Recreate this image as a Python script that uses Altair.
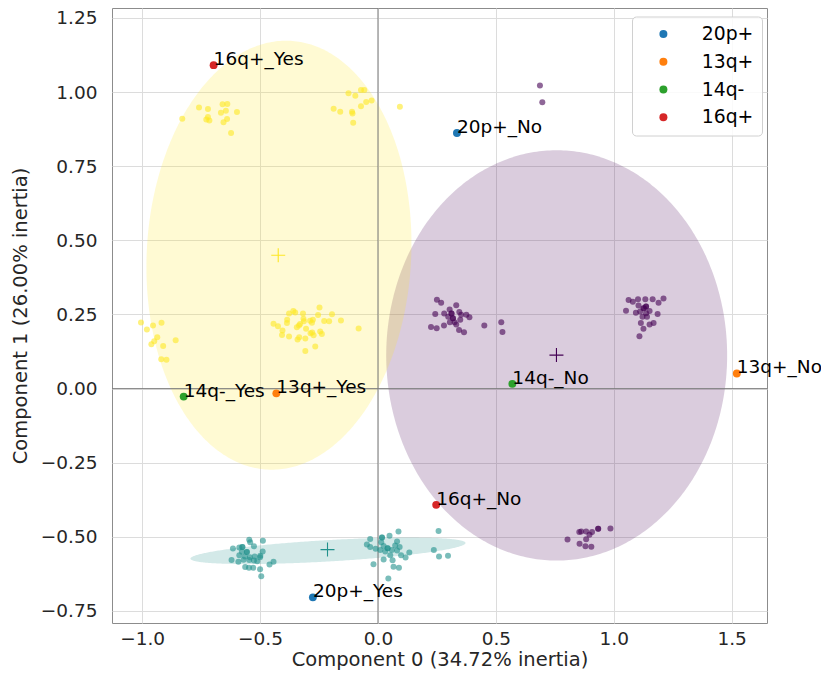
import altair as alt
import numpy as np
import pandas as pd

# ---------------- data ----------------
# Row principal coordinates, grouped by cluster
yellow_x = [-0.830, -0.759, -0.721, -0.659, -0.639, -0.666, -0.645, -0.598, -0.728, -0.715, -0.721, -0.640, -0.655, -0.623,
            -0.125, -0.096, -0.072, -0.058, -0.050, -0.027, -0.072, -0.188, -0.160, -0.110, -0.108, -0.105, 0.093,
            -1.005, -0.980, -0.954, -0.918, -0.936, -0.949, -0.961, -0.911, -0.858, -0.919, -0.897,
            -0.443, -0.424, -0.385, -0.386, -0.377, -0.359, -0.351, -0.318, -0.316, -0.314,
            -0.330, -0.335, -0.344, -0.305, -0.288, -0.276, -0.280, -0.254, -0.248, -0.228,
            -0.207, -0.195, -0.157, -0.082, -0.405, -0.407, -0.377, -0.341, -0.334, -0.308,
            -0.286, -0.279, -0.273, -0.245, -0.238, -0.308, -0.266]
yellow_y = [0.910, 0.948, 0.943, 0.959, 0.960, 0.930, 0.937, 0.933, 0.908, 0.904, 0.916, 0.909, 0.898, 0.862,
            0.996, 0.988, 1.007, 1.007, 0.967, 0.972, 0.952, 0.944, 0.934, 0.934, 0.928, 0.897, 0.951,
            0.223, 0.199, 0.213, 0.222, 0.173, 0.160, 0.150, 0.144, 0.163, 0.099, 0.097,
            0.219, 0.210, 0.232, 0.221, 0.253, 0.262, 0.257, 0.253, 0.236, 0.227,
            0.218, 0.213, 0.207, 0.202, 0.229, 0.232, 0.222, 0.248, 0.274, 0.228,
            0.227, 0.251, 0.230, 0.203, 0.196, 0.181, 0.176, 0.166, 0.173, 0.169,
            0.187, 0.189, 0.180, 0.193, 0.184, 0.127, 0.142]

purple_x = [0.250, 0.268, 0.243, 0.281, 0.304, 0.312, 0.332, 0.345, 0.353, 0.375, 0.388, 0.298, 0.318, 0.325,
            0.349, 0.305, 0.332, 0.280, 0.225, 0.249, 0.344, 0.365, 0.451, 0.523, 0.528, 0.318, 0.312,
            1.063, 1.081, 1.103, 1.134, 1.165, 1.211, 1.190, 1.105, 1.126, 1.137, 1.052, 1.094, 1.112,
            1.137, 1.152, 1.186, 1.122, 1.141, 1.115, 1.152, 1.169, 1.126, 1.109, 1.137, 1.128,
            0.804, 0.854, 0.862, 0.883, 0.908, 0.897, 0.934, 0.986, 0.883, 0.855, 0.880, 0.905, 0.934,
            0.687, 0.697]
purple_y = [0.300, 0.290, 0.252, 0.253, 0.267, 0.253, 0.281, 0.258, 0.249, 0.249, 0.241, 0.242, 0.237, 0.224,
            0.232, 0.224, 0.216, 0.213, 0.208, 0.204, 0.198, 0.190, 0.213, 0.224, 0.191, 0.237, 0.253,
            0.299, 0.293, 0.301, 0.301, 0.301, 0.304, 0.290, 0.280, 0.271, 0.277, 0.263, 0.256, 0.260,
            0.254, 0.262, 0.252, 0.242, 0.242, 0.221, 0.216, 0.221, 0.202, 0.177, 0.277, 0.271,
            -0.509, -0.484, -0.482, -0.482, -0.484, -0.493, -0.473, -0.472, -0.508, -0.523, -0.532, -0.533, -0.473,
            1.022, 0.966]

teal_x = [-0.615, -0.588, -0.575, -0.546, -0.542, -0.488, -0.526, -0.577, -0.556, -0.588, -0.564, -0.543,
          -0.523, -0.499, -0.621, -0.592, -0.570, -0.546, -0.526, -0.512, -0.489, -0.500, -0.443, -0.460,
          -0.563, -0.547, -0.529, -0.500, -0.495, -0.575, -0.556,
          -0.033, 0.017, 0.049, 0.087, 0.014, -0.047, -0.033, -0.010, 0.024, 0.041, 0.081, 0.092, 0.073,
          0.010, 0.031, 0.059, 0.081, 0.098, 0.117, 0.133, 0.052, 0.024, 0.062, -0.019, 0.066, 0.089, 0.044,
          0.041, 0.017,
          0.257, 0.237, 0.259, 0.297]
teal_y = [-0.539, -0.536, -0.534, -0.510, -0.518, -0.513, -0.532, -0.550, -0.551, -0.562, -0.566, -0.569,
          -0.566, -0.564, -0.578, -0.584, -0.577, -0.578, -0.580, -0.582, -0.549, -0.569, -0.584, -0.593,
          -0.602, -0.604, -0.604, -0.609, -0.633, -0.534, -0.551,
          -0.507, -0.502, -0.496, -0.482, -0.518, -0.526, -0.534, -0.540, -0.531, -0.538, -0.516, -0.534, -0.529,
          -0.544, -0.549, -0.544, -0.546, -0.562, -0.570, -0.553, -0.562, -0.576, -0.579, -0.592, -0.601, -0.604, -0.640,
          -0.538, -0.502,
          -0.480, -0.544, -0.566, -0.564]

# Cluster summaries: centroid (+ marker) and confidence ellipse
clusters = ["cluster 0", "cluster 1", "cluster 2"]
cluster_colors = ["#440154", "#21918c", "#fde725"]
centroid_x = [0.757, -0.214, -0.423]
centroid_y = [0.113, -0.543, 0.450]
ell_cx = [0.758, -0.212, -0.420]
ell_cy = [0.112, -0.547, 0.450]
ell_a = [0.723, 0.584, 0.725]      # semi-axis along the angle
ell_b = [0.692, 0.036, 0.560]      # perpendicular semi-axis
ell_angle = [0.0, 2.6, 84.0]       # degrees

# Column principal coordinates
col_labels = ["20p+_No", "20p+_Yes", "13q+_No", "13q+_Yes", "14q-_No", "14q-_Yes", "16q+_No", "16q+_Yes"]
col_var = ["20p+", "20p+", "13q+", "13q+", "14q-", "14q-", "16q+", "16q+"]
col_x = [0.335, -0.276, 1.522, -0.431, 0.570, -0.824, 0.247, -0.697]
col_y = [0.862, -0.704, 0.051, -0.016, 0.016, -0.027, -0.392, 1.091]
var_order = ["20p+", "13q+", "14q-", "16q+"]
var_colors = ["#1f77b4", "#ff7f0e", "#2ca02c", "#d62728"]

x_ticks = [-1.0, -0.5, 0.0, 0.5, 1.0, 1.5]
y_ticks = [-0.75, -0.5, -0.25, 0.0, 0.25, 0.5, 0.75, 1.0, 1.25]
X_DOM = [-1.128, 1.650]
Y_DOM = [-0.7905, 1.2837]

# ---------------- build tables ----------------
rows = pd.DataFrame({
    "x": yellow_x + purple_x + teal_x,
    "y": yellow_y + purple_y + teal_y,
    "cluster": ["cluster 2"] * len(yellow_x) + ["cluster 0"] * len(purple_x) + ["cluster 1"] * len(teal_x),
})

cent = pd.DataFrame({"x": centroid_x, "y": centroid_y, "cluster": clusters})


def ellipse_band(cx, cy, a, b, ang_deg, n=200):
    t = np.radians(ang_deg)
    c, s = np.cos(t), np.sin(t)
    A = c * c / a ** 2 + s * s / b ** 2
    B = 2 * c * s * (1 / a ** 2 - 1 / b ** 2)
    C = s * s / a ** 2 + c * c / b ** 2
    xm = np.sqrt(a * a * c * c + b * b * s * s)
    u = np.linspace(0, np.pi, n)
    dx = -xm * np.cos(u)
    disc = np.clip(B * B * dx * dx - 4 * C * (A * dx * dx - 1), 0, None)
    r = np.sqrt(disc)
    lo = (-B * dx - r) / (2 * C)
    hi = (-B * dx + r) / (2 * C)
    return cx + dx, cy + lo, cy + hi


ell_parts = []
for i, name in enumerate(clusters):
    ex, lo, hi = ellipse_band(ell_cx[i], ell_cy[i], ell_a[i], ell_b[i], ell_angle[i])
    ell_parts.append(pd.DataFrame({"x": ex, "ylo": lo, "yhi": hi, "cluster": name}))
ells = pd.concat(ell_parts, ignore_index=True)

cols = pd.DataFrame({"x": col_x, "y": col_y, "var": col_var, "label": col_labels})
zero = pd.DataFrame({"v": [0.0]})

# ---------------- chart ----------------
FONT = "DejaVu Sans"
xs = alt.Scale(domain=X_DOM, nice=False, zero=False)
ys = alt.Scale(domain=Y_DOM, nice=False, zero=False)
cl_scale = alt.Scale(domain=clusters, range=cluster_colors)

x_axis = alt.Axis(values=x_ticks, format=".1f", title="Component 0 (34.72% inertia)",
                  labelPadding=6, titlePadding=3)
y_axis = alt.Axis(values=y_ticks, format=".2f", title="Component 1 (26.00% inertia)",
                  labelPadding=15, titlePadding=10)

ellipses = alt.Chart(ells).mark_area(opacity=0.2, interpolate="linear").encode(
    x=alt.X("x:Q", scale=xs, axis=x_axis),
    y=alt.Y("ylo:Q", scale=ys, axis=y_axis),
    y2="yhi:Q",
    color=alt.Color("cluster:N", scale=cl_scale, legend=None),
    detail="cluster:N",
)

vzero = alt.Chart(zero).mark_rule(color="#7f7f7f", strokeWidth=1).encode(x=alt.X("v:Q", scale=xs))
hzero = alt.Chart(zero).mark_rule(color="#7f7f7f", strokeWidth=1).encode(y=alt.Y("v:Q", scale=ys))

row_pts = alt.Chart(rows).mark_circle(size=36, opacity=0.6).encode(
    x=alt.X("x:Q", scale=xs),
    y=alt.Y("y:Q", scale=ys),
    color=alt.Color("cluster:N", scale=cl_scale, legend=None),
)

crosses = alt.Chart(cent).mark_point(
    shape="M-1,0L1,0M0,-1L0,1", filled=False, size=196, strokeWidth=1.1, opacity=1
).encode(
    x=alt.X("x:Q", scale=xs),
    y=alt.Y("y:Q", scale=ys),
    color=alt.Color("cluster:N", scale=cl_scale, legend=None),
)

col_pts = alt.Chart(cols).mark_circle(size=62, opacity=1).encode(
    x=alt.X("x:Q", scale=xs),
    y=alt.Y("y:Q", scale=ys),
    color=alt.Color(
        "var:N",
        scale=alt.Scale(domain=var_order, range=var_colors),
        legend=alt.Legend(
            title=None, orient="none", legendX=520, legendY=8.5,
            symbolType="circle", symbolSize=64, symbolOffset=14, symbolStrokeWidth=0,
            labelFont=FONT, labelFontSize=18.8, labelColor="#000000", labelOffset=29,
            rowPadding=7.8, padding=8, strokeColor="#d0d0d0", cornerRadius=4,
            fillColor="rgba(255,255,255,0.85)",
        ),
    ),
)

labels = alt.Chart(cols).mark_text(
    align="left", baseline="alphabetic", font=FONT, fontSize=18.5, color="#000000"
).encode(
    x=alt.X("x:Q", scale=xs),
    y=alt.Y("y:Q", scale=ys),
    text="label:N",
)

chart = alt.layer(
    ellipses, vzero, hzero, row_pts, crosses, col_pts, labels
).resolve_scale(
    color="independent"
).properties(
    width=655,
    height=615,
    autosize=alt.AutoSizeParams(type="none"),
    padding={"left": 104, "top": 0, "right": 54, "bottom": 53},
    title=alt.TitleParams("Row and column principal coordinates", font=FONT, fontSize=22,
                          fontWeight="normal", color="#000000"),
).configure_view(
    stroke="#8c8c8c", strokeWidth=1
).configure_axis(
    grid=True, gridColor="#dcdcdc", gridWidth=1, domain=False, ticks=False,
    labelFont=FONT, labelFontSize=18.5, labelColor="#262626",
    titleFont=FONT, titleFontSize=19.5, titleFontWeight="normal", titleColor="#262626",
)

chart.save("out.html", embed_options={"renderer": "svg", "actions": False})
